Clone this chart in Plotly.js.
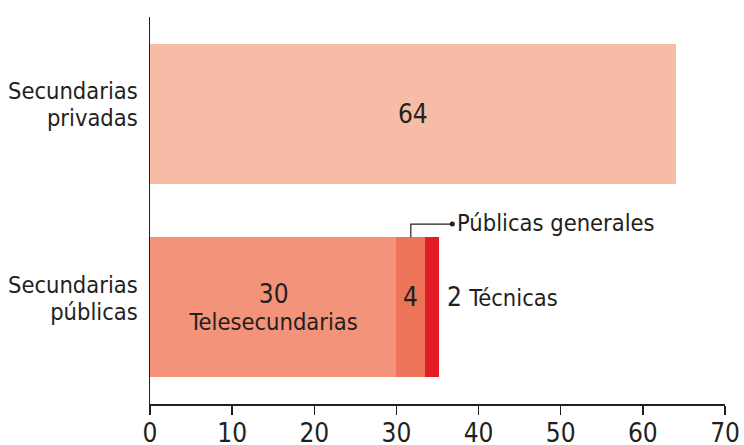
<!DOCTYPE html>
<html>
<head>
<meta charset="utf-8">
<script src="https://cdn.plot.ly/plotly-3.0.1.min.js"></script>
<style>
  html, body { margin: 0; padding: 0; background: #fff; }
  #chart { width: 744px; height: 445px; }
</style>
</head>
<body>
<div id="chart"></div>
<script>
// categories, bottom to top
var categories = ['Secundarias públicas', 'Secundarias privadas'];
var categoryLines = [['Secundarias', 'públicas'], ['Secundarias', 'privadas']];

// series values (one number per category)
var privadas = [null, 64];
var telesecundarias = [30, null];
var generales = [3.5, null];
var tecnicas = [1.7, null];

// labels shown on the bars
var privadasLabel = ['', '64'];
var teleLabel = ['30', ''];
var generalesLabel = '4';
var tecnicasLabel = '2';
var teleName = 'Telesecundarias';
var generalesName = 'Públicas generales';
var tecnicasName = 'Técnicas';

var xTicks = [0, 10, 20, 30, 40, 50, 60, 70];

var FONT = "'Liberation Sans Narrow', 'DejaVu Sans Condensed', 'Roboto Condensed', sans-serif";
var INK = '#231f20';
var NUM = 26;   // numbers
var WORD = 23.5; // words

function big(s, px) { return '<span style="font-size:' + px + 'px">' + s + '</span>'; }

var teleText = teleLabel.map(function (v) {
    return v ? big(v, NUM) + '<br>' + big(teleName, WORD) : '';
});

var common = {
    type: 'bar',
    orientation: 'h',
    y: categories,
    textposition: 'inside',
    insidetextanchor: 'middle',
    constraintext: 'none',
    hoverinfo: 'none',
    marker: { line: { width: 0 } }
};

var data = [
    Object.assign({}, common, {
        x: privadas, text: privadasLabel,
        marker: { color: '#f7bca6' },
        textfont: { family: FONT, size: NUM, color: INK }
    }),
    Object.assign({}, common, {
        x: telesecundarias, text: teleText,
        marker: { color: '#f2937a' },
        textfont: { family: FONT, size: 20.5, color: INK }
    }),
    Object.assign({}, common, {
        x: generales, text: ['', ''],
        marker: { color: '#ec7559' }
    }),
    Object.assign({}, common, {
        x: tecnicas, text: ['', ''],
        marker: { color: '#e31d25' }
    })
];

// connector from the "generales" segment to its label
var genMid = telesecundarias[0] + generales[0] / 2;
var barTop = 0.362;
var elbowY = 0.43;
var labelX = 36.8;

var annotations = [];
categoryLines.forEach(function (lines, i) {
    annotations.push({
        xref: 'paper', yref: 'y', x: 0, y: i,
        xanchor: 'right', yanchor: 'middle', xshift: -10, yshift: 9,
        align: 'right', showarrow: false,
        text: big(lines[0], WORD) + '<br>' + big(lines[1], WORD),
        font: { family: FONT, size: 20.8, color: INK }
    });
});
annotations.push({
    x: genMid, y: 0, xref: 'x', yref: 'y', showarrow: false,
    yshift: 10, text: generalesLabel,
    font: { family: FONT, size: NUM, color: INK }
});
var endTotal = telesecundarias[0] + generales[0] + tecnicas[0];
annotations.push({
    x: endTotal, y: 0, xref: 'x', yref: 'y', showarrow: false,
    xanchor: 'left', xshift: 6, yshift: 10,
    text: tecnicasLabel + ' ' + big(tecnicasName, WORD),
    font: { family: FONT, size: NUM, color: INK }
});
annotations.push({
    x: labelX, y: elbowY, xref: 'x', yref: 'y', showarrow: false,
    xanchor: 'left', xshift: 3, yshift: 1,
    text: generalesName,
    font: { family: FONT, size: WORD, color: INK }
});

var shapes = [
    { type: 'path', xref: 'x', yref: 'y',
      path: 'M' + genMid + ',' + barTop + ' L' + genMid + ',' + elbowY + ' L' + labelX + ',' + elbowY,
      line: { color: INK, width: 1.2 } },
    { type: 'circle', xref: 'x', yref: 'y', xsizemode: 'pixel', ysizemode: 'pixel',
      xanchor: labelX, yanchor: elbowY, x0: -2.5, x1: 2.5, y0: -2.5, y1: 2.5,
      fillcolor: INK, line: { width: 0 } }
];

var layout = {
    width: 744,
    height: 445,
    barmode: 'stack',
    bargap: 0.2765,
    showlegend: false,
    paper_bgcolor: '#ffffff',
    plot_bgcolor: '#ffffff',
    margin: { l: 150, r: 19, t: 17, b: 41, pad: 0 },
    xaxis: {
        range: [0, 70],
        tickvals: xTicks,
        ticktext: xTicks.map(String),
        ticks: 'outside',
        ticklen: 9,
        tickwidth: 1.5,
        tickcolor: INK,
        ticklabelstandoff: -4,
        showline: true,
        linecolor: INK,
        linewidth: 1.5,
        showgrid: false,
        zeroline: false,
        fixedrange: true,
        tickfont: { family: FONT, size: 26, color: INK }
    },
    yaxis: {
        type: 'category',
        categoryarray: categories,
        range: [-0.5, 1.5],
        showticklabels: false,
        ticks: '',
        showline: true,
        linecolor: INK,
        linewidth: 1.5,
        showgrid: false,
        zeroline: false,
        fixedrange: true
    },
    annotations: annotations,
    shapes: shapes
};

var config = { responsive: false, displayModeBar: false, staticPlot: true };

Plotly.newPlot('chart', data, layout, config);
</script>
</body>
</html>
